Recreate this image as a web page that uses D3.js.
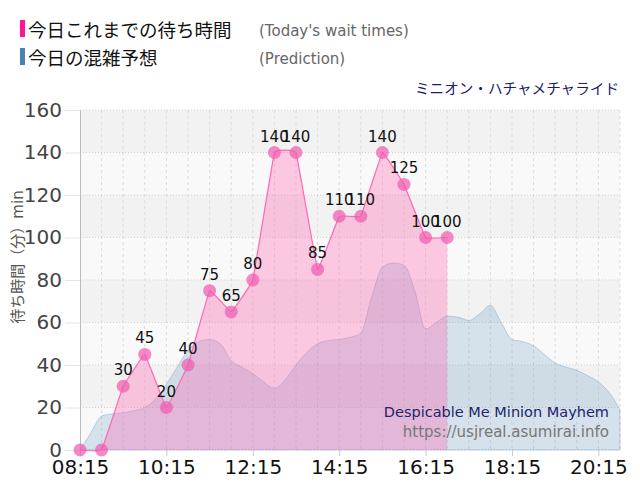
<!DOCTYPE html>
<html>
<head>
<meta charset="utf-8">
<script src="https://cdn.jsdelivr.net/npm/d3@7"></script>
<style>
  body { margin: 0; background: #fff; }
  svg { display: block; font-family: "DejaVu Sans", "Noto Sans CJK JP", sans-serif; }
</style>
</head>
<body>
<svg id="chart" width="640" height="500"></svg>
<script>
// Tamaño del grafico
const W = 640, H = 500;
const margin = {top: 110, right: 20, bottom: 50, left: 80};

// Tiempos de espera de hoy
const waitTimes = ["08:15","08:45","09:15","09:45","10:15","10:45","11:15","11:45","12:15","12:45","13:15","13:45","14:15","14:45","15:15","15:45","16:15","16:45"];
const waitValues = [0, 0, 30, 45, 20, 40, 75, 65, 80, 140, 140, 85, 110, 110, 140, 125, 100, 100];

// Prediccion (cada 15 min)
const predTimes = ["08:15","08:30","08:45","09:00","09:15","09:30","09:45","10:00","10:15","10:30","10:45","11:00","11:15","11:30","11:45","12:00","12:15","12:30","12:45","13:00","13:15","13:30","13:45","14:00","14:15","14:30","14:45","15:00","15:15","15:30","15:45","16:00","16:15","16:30","16:45","17:00","17:15","17:30","17:45","18:00","18:15","18:30","18:45","19:00","19:15","19:30","19:45","20:00","20:15","20:30","20:45"];
const predValues = [0, 8, 16, 17, 17.5, 18.5, 20, 24, 31, 39, 47, 51, 52, 50, 42, 39, 36, 32, 29, 33, 40, 46, 50, 51.5, 52, 53, 55, 72, 86, 88, 87, 75, 57, 60, 63, 62.5, 61, 64, 68, 60, 52, 51, 49, 45, 41, 39, 37.5, 35, 32, 27, 19];

// Ejes
const xTicks = ["08:15","10:15","12:15","14:15","16:15","18:15","20:15"];
const yTicks = [0, 20, 40, 60, 80, 100, 120, 140, 160];
const xDomain = ["08:15", "20:45"];

const toMin = s => { const [h, m] = s.split(":"); return +h * 60 + +m; };

const svg = d3.select("#chart");

const x = d3.scaleLinear()
  .domain(xDomain.map(toMin))
  .range([margin.left, W - margin.right]);
const y = d3.scaleLinear()
  .domain([0, 160])
  .range([H - margin.bottom, margin.top]);

// Bandas de fondo alternas
const bands = d3.range(0, 160, 20);
svg.append("g").selectAll("rect")
  .data(bands)
  .join("rect")
  .attr("x", x.range()[0])
  .attr("width", x.range()[1] - x.range()[0])
  .attr("y", d => y(d + 20))
  .attr("height", d => y(d) - y(d + 20))
  .attr("fill", d => (d / 20) % 2 === 0 ? "#f9f9f9" : "#f2f2f2");

// Rejilla vertical cada 30 min
const gridX = d3.range(toMin(xDomain[0]) + 30, toMin(xDomain[1]) + 1, 30);
svg.append("g").selectAll("line")
  .data(gridX)
  .join("line")
  .attr("x1", d => x(d)).attr("x2", d => x(d))
  .attr("y1", y(160)).attr("y2", y(0))
  .attr("stroke", "#dcdcdc")
  .attr("stroke-dasharray", "3,3");

// Rejilla horizontal
svg.append("g").selectAll("line")
  .data(yTicks)
  .join("line")
  .attr("x1", x.range()[0]).attr("x2", x.range()[1])
  .attr("y1", d => y(d)).attr("y2", d => y(d))
  .attr("stroke", "#cfcfcf")
  .attr("stroke-dasharray", "1,2");

// Eje Y
const yAxis = d3.axisLeft(y).tickValues(yTicks).tickSize(15).tickPadding(3);
svg.append("g")
  .attr("transform", `translate(${margin.left},0)`)
  .call(yAxis)
  .call(g => g.select(".domain").attr("stroke", "#bbb"))
  .call(g => g.selectAll(".tick line").attr("stroke", "#e4e4e4"))
  .call(g => g.selectAll(".tick text").attr("fill", "#444").style("font-size", "20px")
    .style("font-family", "DejaVu Sans"));

// Eje X
const xAxis = d3.axisBottom(x).tickValues(xTicks.map(toMin))
  .tickFormat(d => xTicks[xTicks.map(toMin).indexOf(d)])
  .tickSize(6).tickPadding(4);
svg.append("g")
  .attr("transform", `translate(0,${y(0)})`)
  .call(xAxis)
  .call(g => g.select(".domain").remove())
  .call(g => g.selectAll(".tick line").attr("stroke", "#ccc"))
  .call(g => g.selectAll(".tick text").attr("fill", "#111").style("font-size", "20px")
    .style("font-family", "DejaVu Sans"));

// Area de prediccion
const predData = predTimes.map((t, i) => [toMin(t), predValues[i]]);
svg.append("path")
  .datum(predData)
  .attr("fill", "rgba(70,130,180,0.2)")
  .attr("stroke", "rgba(70,130,180,0.3)")
  .attr("stroke-width", 1)
  .attr("d", d3.area().curve(d3.curveMonotoneX)
    .x(d => x(d[0])).y0(y(0)).y1(d => y(d[1])));

// Area de tiempos de hoy
const waitData = waitTimes.map((t, i) => [toMin(t), waitValues[i]]);
svg.append("path")
  .datum(waitData)
  .attr("fill", "rgba(255,105,180,0.35)")
  .attr("d", d3.area().curve(d3.curveCardinal.tension(0.85))
    .x(d => x(d[0])).y0(y(0)).y1(d => y(d[1])));
svg.append("path")
  .datum(waitData)
  .attr("fill", "none")
  .attr("stroke", "#ff69b4")
  .attr("stroke-width", 1.2)
  .attr("d", d3.line().curve(d3.curveCardinal.tension(0.85))
    .x(d => x(d[0])).y(d => y(d[1])));

svg.append("g").selectAll("circle")
  .data(waitData)
  .join("circle")
  .attr("cx", d => x(d[0]))
  .attr("cy", d => y(d[1]))
  .attr("r", 6.5)
  .attr("fill", "rgba(240,90,175,0.7)");

// Etiquetas de valores
svg.append("g").selectAll("text")
  .data(waitData.filter(d => d[1] > 0))
  .join("text")
  .attr("x", d => x(d[0]))
  .attr("y", d => y(d[1]) - 11)
  .attr("text-anchor", "middle")
  .style("font-size", "15px")
  .attr("fill", "#111")
  .text(d => d[1]);

// Leyenda
const legend = [
  {label: "今日これまでの待ち時間", en: "(Today's wait times)", color: "#ff1493"},
  {label: "今日の混雑予想", en: "(Prediction)", color: "#4682b4"}
];
const lg = svg.append("g").selectAll("g")
  .data(legend)
  .join("g")
  .attr("transform", (d, i) => `translate(0,${i * 28})`);
lg.append("rect")
  .attr("x", 20).attr("y", 20).attr("width", 5).attr("height", 17)
  .attr("fill", d => d.color);
lg.append("text")
  .attr("x", 28).attr("y", 37)
  .style("font-size", "18.5px")
  .attr("fill", "#111")
  .text(d => d.label);
lg.append("text")
  .attr("x", 259).attr("y", 36)
  .style("font-size", "15px")
  .attr("fill", "#666")
  .text(d => d.en);

// Titulo de la atraccion
svg.append("text")
  .attr("x", 619).attr("y", 94)
  .attr("text-anchor", "end")
  .style("font-size", "14.6px")
  .attr("fill", "#1a1a6e")
  .text("ミニオン・ハチャメチャライド");

// Titulo del eje Y
svg.append("text")
  .attr("transform", "translate(23,257) rotate(-90)")
  .attr("text-anchor", "middle")
  .style("font-size", "15px")
  .attr("fill", "#555")
  .text("待ち時間（分）min");

// Textos abajo a la derecha
svg.append("text")
  .attr("x", 609).attr("y", 417)
  .attr("text-anchor", "end")
  .style("font-size", "14.5px")
  .attr("fill", "#23236b")
  .text("Despicable Me Minion Mayhem");
svg.append("text")
  .attr("x", 609).attr("y", 437)
  .attr("text-anchor", "end")
  .style("font-size", "15px")
  .attr("fill", "#777")
  .text("https://usjreal.asumirai.info");
</script>
</body>
</html>
